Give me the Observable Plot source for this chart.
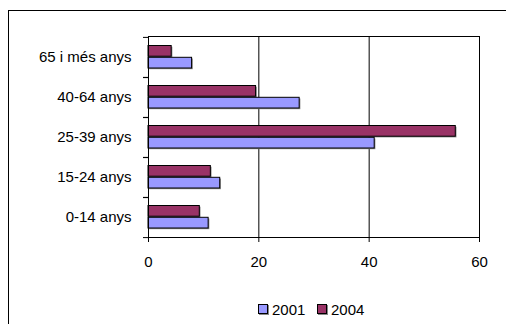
<!DOCTYPE html>
<html>
<head>
<meta charset="utf-8">
<script src="https://cdn.jsdelivr.net/npm/d3@7"></script>
<script src="https://cdn.jsdelivr.net/npm/@observablehq/plot@0.6"></script>
<style>
  html, body { margin: 0; padding: 0; background: #fff; overflow: hidden; width: 506px; height: 324px; }
  #wrap { position: relative; width: 506px; height: 324px; font-family: "Liberation Sans", Arial, sans-serif; }
  #border { position: absolute; left: 8px; top: 10px; width: 600px; height: 400px; border-left: 1px solid #000; border-top: 1px solid #000; }
  #chart { position: absolute; left: 0; top: 0; }
  #legend { position: absolute; left: 0; top: 300px; width: 506px; font-size: 15px; color: #000; }
  .item { position: absolute; top: 0; display: flex; align-items: center; height: 18px; }
  .sw { width: 8px; height: 8px; border: 1px solid #000; margin-right: 4px; box-shadow: 1px 1px 0 #888; }
</style>
</head>
<body>
<div id="wrap">
  <div id="border"></div>
  <div id="chart"></div>
  <div id="legend"></div>
</div>
<script>
const ages = ["65 i més anys", "40-64 anys", "25-39 anys", "15-24 anys", "0-14 anys"];
const v2001 = [7.9, 27.4, 41.0, 13.0, 10.9];
const v2004 = [4.2, 19.5, 55.7, 11.3, 9.3];
const series = ["2001", "2004"];
const colors = ["#9999FF", "#993366"];
const xTicks = [0, 20, 40, 60];

const rows2001 = ages.map((a, i) => ({age: a, value: v2001[i], year: "2001"}));
const rows2004 = ages.map((a, i) => ({age: a, value: v2004[i], year: "2004"}));

const font = "15px";
const chart = Plot.plot({
  width: 506,
  height: 324,
  marginLeft: 148,
  marginRight: 27,
  marginTop: 36,
  marginBottom: 87,
  style: {fontFamily: "'Liberation Sans', Arial, sans-serif", fontSize: font, color: "#000", background: "transparent"},
  x: {domain: [0, 60], ticks: xTicks, label: null},
  y: {domain: ages, padding: 0, label: null},
  marks: [
    Plot.ruleX([20, 40], {stroke: "#000", strokeWidth: 1}),
    // shadows
    Plot.barX(rows2004, {x: "value", y: "age", insetTop: 8.5, insetBottom: 20.8, fill: "#888", dx: 1.2, dy: 1.2}),
    Plot.barX(rows2001, {x: "value", y: "age", insetTop: 20.3, insetBottom: 9, fill: "#888", dx: 1.2, dy: 1.2}),
    Plot.barX(rows2004, {x: "value", y: "age", insetTop: 8.5, insetBottom: 20.8, fill: colors[1], stroke: "#000", strokeWidth: 1}),
    Plot.barX(rows2001, {x: "value", y: "age", insetTop: 20.3, insetBottom: 9, fill: colors[0], stroke: "#000", strokeWidth: 1}),
    Plot.frame({stroke: "#000", strokeWidth: 1}),
    Plot.axisX({ticks: xTicks, tickSize: 5, tickPadding: 14, label: null, fontSize: font}),
    Plot.axisY({tickSize: 5, tickFormat: () => "", dy: -20.1, label: null}),
    Plot.axisY({tickSize: 5, tickFormat: () => "", dy: 20.1, label: null}),
    Plot.axisY({tickSize: 0, tickPadding: 17, label: null, fontSize: font})
  ]
});
document.getElementById("chart").appendChild(chart);

// legend
const legend = document.getElementById("legend");
const lefts = [258, 317];
series.forEach((s, i) => {
  const item = document.createElement("div");
  item.className = "item";
  item.style.left = lefts[i] + "px";
  const sw = document.createElement("div");
  sw.className = "sw";
  sw.style.background = colors[i];
  const t = document.createElement("span");
  t.textContent = s;
  item.appendChild(sw);
  item.appendChild(t);
  legend.appendChild(item);
});
</script>
</body>
</html>
